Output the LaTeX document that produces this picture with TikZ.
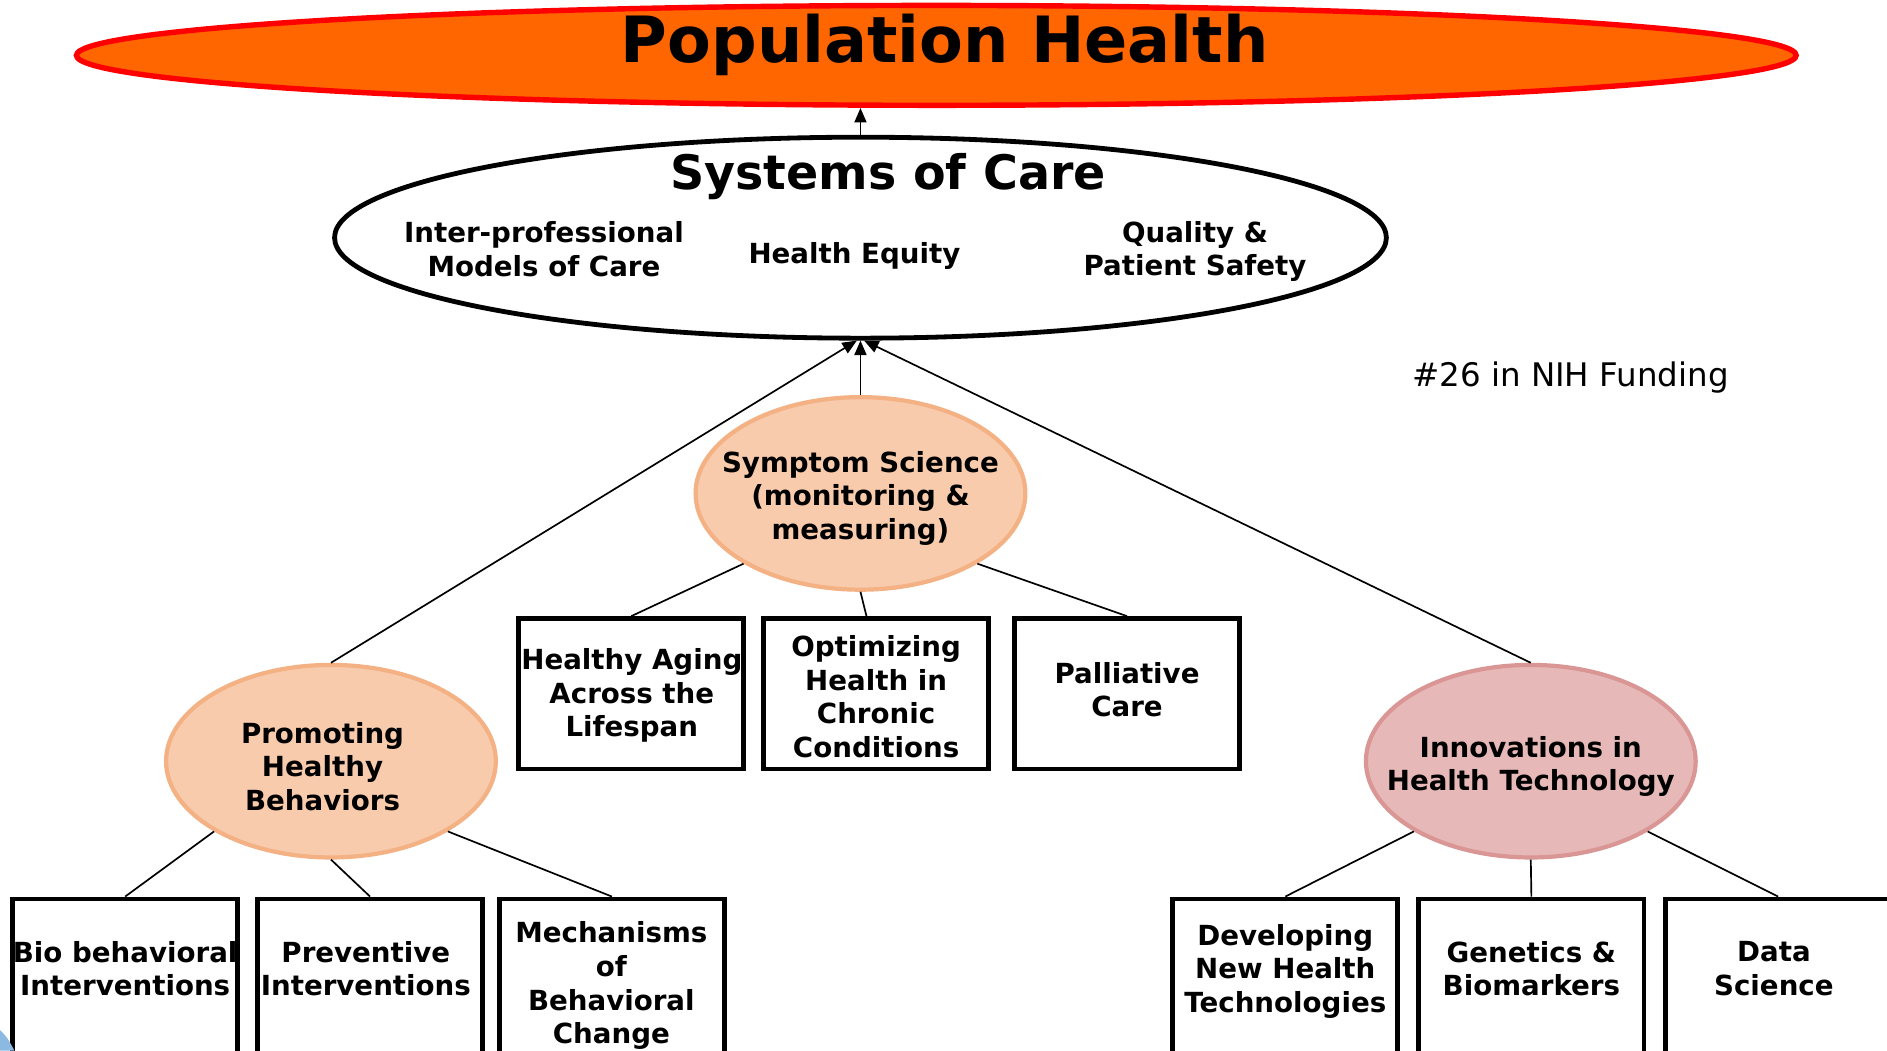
\documentclass[tikz,border=0pt]{standalone}
\usepackage{fontspec}
\setmainfont{DejaVu Sans}
\usetikzlibrary{shapes.geometric,arrows.meta}

\definecolor{popfill}{HTML}{FF6600}
\definecolor{popline}{HTML}{FF0000}
\definecolor{peach}{HTML}{F8CBAD}
\definecolor{peachline}{HTML}{F4B183}
\definecolor{rosefill}{HTML}{E6B8B7}
\definecolor{roseline}{HTML}{D99694}
\definecolor{cornerblue}{HTML}{5B9BD5}

\begin{document}
\begin{tikzpicture}[x=1pt,y=-1pt,
 every node/.style={font=\bfseries\fontsize{23}{28}\selectfont, align=center, inner sep=0pt},
 bubble/.style={ellipse, minimum width=274, minimum height=160, line width=3.5pt},
 topicbox/.style={rectangle, draw=black, line width=4pt, fill=white, minimum width=187, minimum height=125},
 lowbox/.style={rectangle, draw=black, line width=4pt, fill=white, minimum width=187, minimum height=200},
 link/.style={line width=1.4pt},
 up/.style={line width=1.4pt, -{Triangle[length=12pt,width=10pt]}}
]
\useasboundingbox (0,0) rectangle (1568,873);
\clip (0,0) rectangle (1568,873);
\fill[white] (0,0) rectangle (1568,873);

% top
\node[ellipse, draw=popline, fill=popfill, line width=4.5pt, minimum width=1429, minimum height=83] (pop) at (778,46) {};
\node[font=\bfseries\fontsize{53}{60}\selectfont] (popT) at (785,37) {Population Health};

\node[ellipse, draw=black, line width=4pt, fill=white, minimum width=874, minimum height=167] (soc) at (715,197.5) {};
\node[font=\bfseries\fontsize{39.5}{44}\selectfont] (socT) at (738,147) {Systems of Care};
\node (ipm) at (452,207) {Inter-professional\\Models of Care};
\node (he) at (710,213) {Health Equity};
\node (qps) at (993,209) {Quality \&\\Patient Safety};

\node[font=\mdseries\fontsize{27}{30}\selectfont] (nih) at (1305,314) {\#26 in NIH Funding};

% bubbles
\node[bubble, draw=peachline, fill=peach] (sym) at (715,410) {};
\node[bubble, draw=peachline, fill=peach] (phb) at (275,632.5) {};
\node[bubble, draw=roseline, fill=rosefill] (iht) at (1272,632.5) {};
\node (symT) at (715,414) {Symptom Science\\(monitoring \&\\measuring)};
\node (phbT) at (268,637) {Promoting\\Healthy\\Behaviors};
\node (ihtT) at (1272,637) {Innovations in\\Health Technology};

% middle boxes
\node[topicbox] (ha) at (524.5,576.5) {};
\node[topicbox] (opt) at (728,576.5) {};
\node[topicbox] (pal) at (936.5,576.5) {};
\node (haT) at (525,578) {Healthy Aging\\Across the\\Lifespan};
\node (optT) at (728,579) {Optimizing\\Health in\\Chronic\\Conditions};
\node (palT) at (936.5,573) {Palliative\\Care};

% lower boxes
\node[lowbox] (bioB) at (104,847) {};
\node[lowbox] (prevB) at (307.5,847) {};
\node[lowbox] (mechB) at (508.5,847) {};
\node[lowbox] (devB) at (1068,847) {};
\node[lowbox] (genB) at (1272.5,847) {};
\node[lowbox] (dataB) at (1477.5,847) {};
\node (bio) at (104,805) {Bio behavioral\\Interventions};
\node (prev) at (304,805) {Preventive\\Interventions};
\node (mech) at (508,819) {Mechanisms\\of\\Behavioral\\Change};
\node (dev) at (1068,807) {Developing\\New Health\\Technologies};
\node (gen) at (1272.5,805) {Genetics \&\\Biomarkers};
\node (data) at (1474,805) {Data\\Science};

% arrows
\draw[up] (soc.north) -- (soc.north |- pop.south);
\draw[up] (sym.north) -- (soc.south);
\draw[up] (phb.north) -- ([xshift=-3pt]soc.south);
\draw[up] (iht.north) -- ([xshift=3pt]soc.south);

% links
\draw[link] (sym.211) -- (ha.north);
\draw[link] (sym.south) -- ([xshift=-8pt]opt.north);
\draw[link] (sym.329) -- (pal.north);
\draw[link] (phb.211) -- (bioB.north);
\draw[link] (phb.south) -- (prevB.north);
\draw[link] (phb.329) -- (mechB.north);
\draw[link] (iht.211) -- (devB.north);
\draw[link] (iht.south) -- (genB.north);
\draw[link] (iht.329) -- (dataB.north);

% corner decoration
\fill[cornerblue!70] (0,856) .. controls (6,862) .. (12,873) -- (0,873) -- cycle;
\end{tikzpicture}
\end{document}
